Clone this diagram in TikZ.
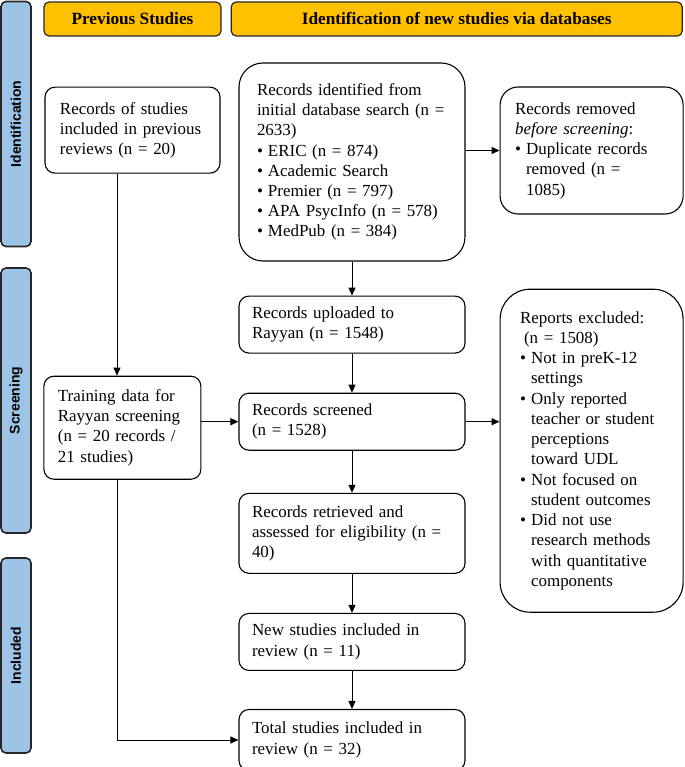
\documentclass[tikz,border=0pt]{standalone}
\usepackage{fontspec}
\setmainfont{Liberation Serif}
\newfontfamily\phasefont{Liberation Sans}
\usetikzlibrary{arrows.meta,positioning}

\definecolor{headgold}{HTML}{FFC000}
\definecolor{phaseblue}{HTML}{9DC3E6}
\newcommand{\pbul}{\makebox[11bp][l]{\textbullet}}
\newcommand{\pind}{\hspace*{11bp}}

\begin{document}
\begin{tikzpicture}[
  x=1bp, y=1bp,
  >={Triangle[length=8bp,width=7bp]},
  font=\fontsize{17}{20.3}\selectfont,
  header/.style={rectangle, rounded corners=5bp, draw=black!85, line width=1.2bp, fill=headgold, minimum height=34bp, inner sep=0pt, font=\fontsize{17.3}{19}\selectfont\bfseries},
  phase/.style={rectangle, rounded corners=5bp, draw=black!85, line width=1.6bp, fill=phaseblue, rotate=90, minimum height=30bp, inner sep=0pt, font=\phasefont\bfseries\fontsize{14}{16}\selectfont},
  stage/.style={rectangle, rounded corners=10bp, draw=black, line width=1.1bp, fill=white, align=left, inner xsep=13bp, inner ysep=3bp, text width=200bp, minimum height=57bp},
  arrow/.style={->, line width=1bp, draw=black}
]
\useasboundingbox (0,0) rectangle (685,-767);
\node[phase, minimum width=245bp] (idphase) at (16,-124) {Identification};
\node[phase, minimum width=265bp] (scphase) at (16,-400.5) {Screening};
\node[phase, minimum width=195bp] (inphase) at (16,-655.5) {Included};
\node[header, minimum width=177bp] (prevhead) at (132.5,-19) {Previous Studies};
\node[header, minimum width=451bp, right=9bp of prevhead] (newhead) {Identification of new studies via databases};
\node[stage, text width=145bp, inner xsep=15bp, minimum height=86bp, below=50bp of prevhead] (prior) {Records of studies\\included in previous\\reviews (n = 20)};
\node[stage, rounded corners=24bp, text width=190bp, inner xsep=18bp, minimum height=198bp] (ident) at (352,-162) {Records identified from\\initial database search (n =\\2633)\\\pbul ERIC (n = 874)\\\pbul Academic Search\\\pbul Premier (n = 797)\\\pbul APA PsycInfo (n = 578)\\\pbul MedPub (n = 384)};
\node[stage, rounded corners=18bp, text width=153bp, inner xsep=15bp, minimum height=127bp, right=34bp of ident, yshift=11.5bp] (removed) {Records removed\\\textit{before screening}:\\\pbul Duplicate records\\\pind removed (n =\\\pind 1085)};
\node[stage, below=34bp of ident] (upload) {Records uploaded to\\Rayyan (n = 1548)};
\node[stage, below=39bp of upload] (screen) {Records screened\\(n = 1528)};
\node[stage, minimum height=80bp, below=42bp of screen] (retr) {Records retrieved and\\assessed for eligibility (n =\\40)};
\node[stage, below=39bp of retr] (newst) {New studies included in\\review (n = 11)};
\node[stage, minimum height=61bp, below=38bp of newst] (total) {Total studies included in\\review (n = 32)};
\node[stage, text width=129bp, inner xsep=14bp, minimum height=103bp, left=37bp of screen, yshift=-6bp] (train) {Training data for\\Rayyan screening\\(n = 20 records /\\21 studies)};
\node[stage, rounded corners=30bp, text width=143bp, inner xsep=20bp, minimum height=323bp, right=34bp of screen, yshift=-29bp] (excl) {Reports excluded:\\\hspace*{4bp}(n = 1508)\\\pbul Not in preK-12\\\pind settings\\\pbul Only reported\\\pind teacher or student\\\pind perceptions\\\pind toward UDL\\\pbul Not focused on\\\pind student outcomes\\\pbul Did not use\\\pind research methods\\\pind with quantitative\\\pind components};
\coordinate (trunk) at (117,0);
\draw[arrow] (prior.south -| trunk) -- (train.north -| trunk);
\draw[arrow] (train.south -| trunk) |- (total.west);
\draw[arrow] (ident.east |- removed.west) -- (removed.west);
\draw[arrow] (ident) -- (upload);
\draw[arrow] (upload) -- (screen);
\draw[arrow] (train.east |- screen.west) -- (screen.west);
\draw[arrow] (screen.east) -- (screen.east -| excl.west);
\draw[arrow] (screen) -- (retr);
\draw[arrow] (retr) -- (newst);
\draw[arrow] (newst) -- (total);
\end{tikzpicture}
\end{document}
